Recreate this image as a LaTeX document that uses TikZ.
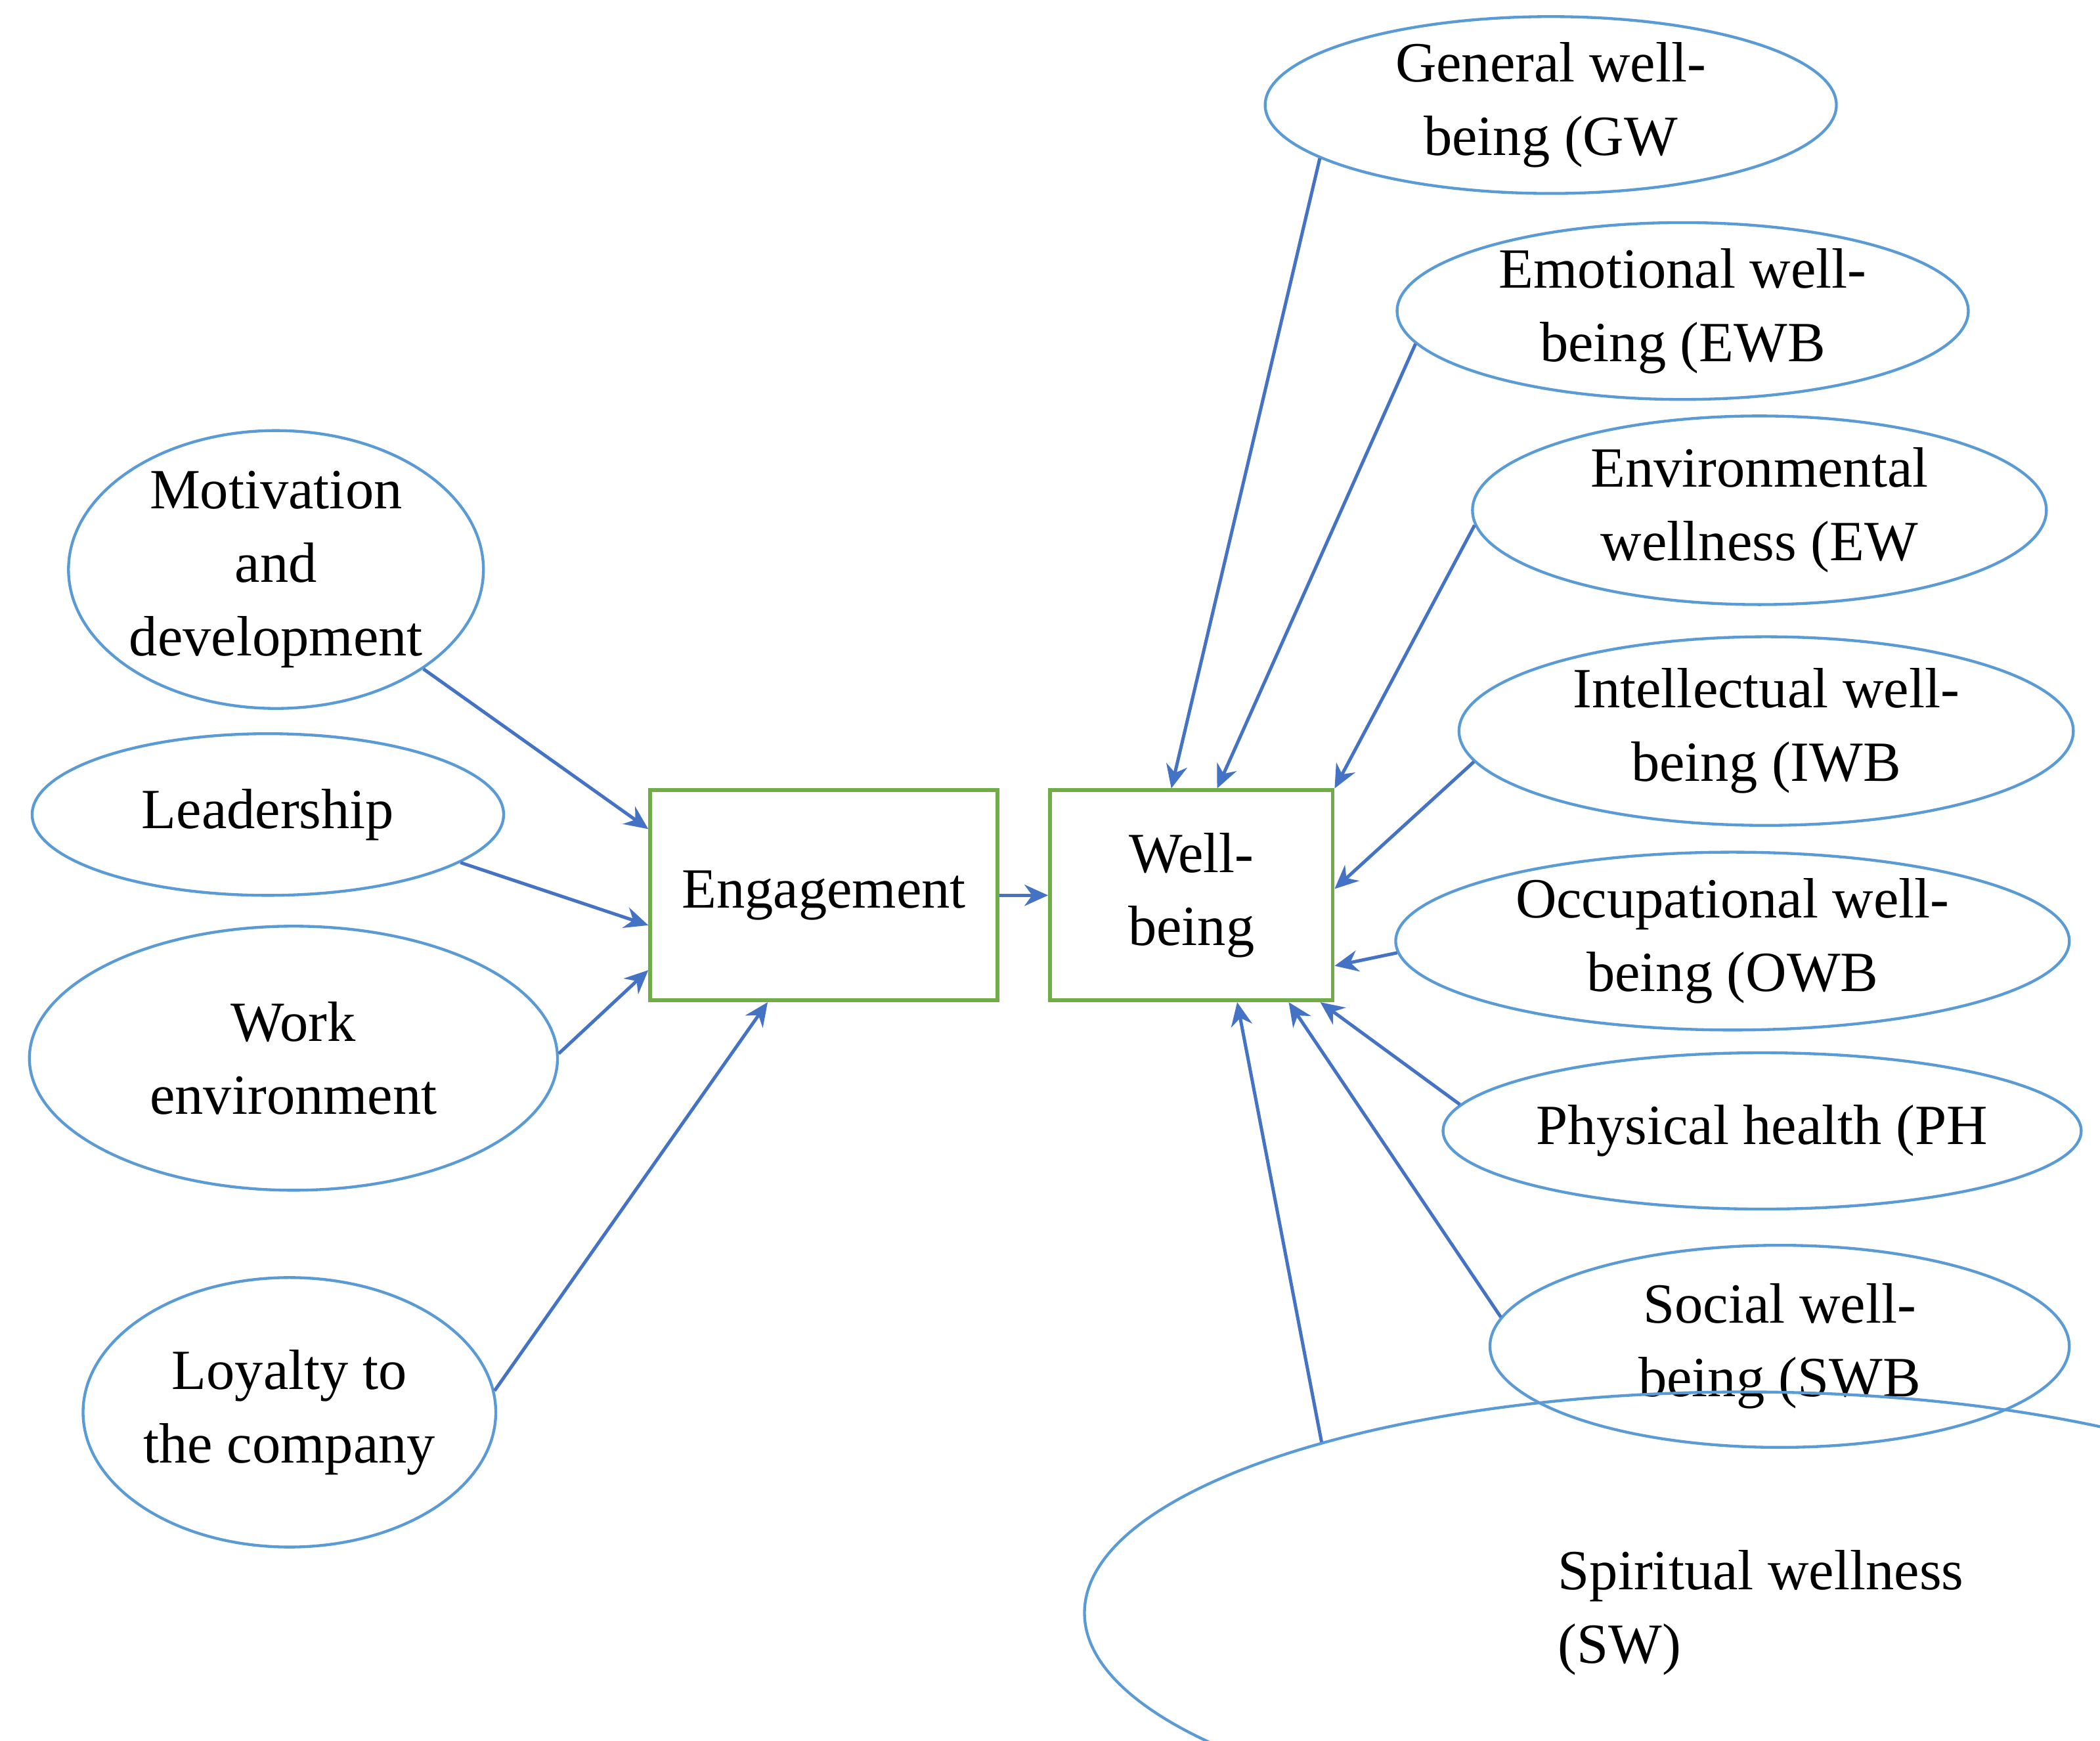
\documentclass[tikz,border=0pt]{standalone}
\usepackage{fontspec}
\setmainfont{Liberation Serif}
\usetikzlibrary{shapes.geometric,arrows.meta,calc}
\definecolor{ell}{RGB}{91,155,213}
\definecolor{arr}{RGB}{68,114,196}
\definecolor{grn}{RGB}{112,173,71}
\begin{document}
\begin{tikzpicture}[x=0.01cm,y=-0.01cm,
 el/.style={ellipse,draw=ell,line width=0.6pt,inner sep=0pt,align=center,font=\fontsize{12}{15.5}\selectfont},
 bx/.style={rectangle,draw=grn,line width=0.8pt,inner sep=0pt,align=center,font=\fontsize{12}{15.5}\selectfont},
 ar/.style={draw=arr,line width=0.7pt,-{Stealth[length=5pt,width=4.5pt]}}]
\useasboundingbox (0,0) rectangle (1560,1293);
\def\E(#1,#2,#3,#4,#5,#6){\node[el,minimum width=#4*0.02cm,minimum height=#5*0.02cm] (#1) at (#2,#3) {#6};}
\E(mot,205,423,152,101,Motivation\\and\\development)
\E(lead,199,605,175,60,Leadership)
\E(work,218,786,196,98,Work\\environment)
\E(loy,215,1049,142,100,Loyalty to\\the company)
\E(gw,1152,78,212,62,General well-\\being (GW))
\E(ewb,1250,231,212,63,Emotional well-\\being (EWB))
\E(ew,1307,379,213,70,Environmental\\wellness (EW))
\E(iwb,1312,543,228,70,Intellectual well-\\being (IWB))
\E(owb,1287,699,250,66,Occupational well-\\being (OWB))
\E(ph,1309,840,227,58,Physical health (PH))
\E(swb,1322,1000,215,75,Social well-\\being (SWB))
\node[el,minimum width=490*0.02cm,minimum height=164*0.02cm] (sw) at (1296,1198) {};
\node[font=\fontsize{12}{15.5}\selectfont,align=left,anchor=west] (swt) at (1145,1198) {Spiritual wellness\\(SW)};
\node[bx,minimum width=258*0.01cm,minimum height=156*0.01cm] (eng) at (612,665) {Engagement};
\node[bx,minimum width=210*0.01cm,minimum height=156*0.01cm] (wb) at (885,665) {Well-\\being};
\draw[ar] (mot.-34) -- ($(eng.north west)!0.19!(eng.south west)$);
\draw[ar] (lead.-14) -- ($(eng.north west)!0.64!(eng.south west)$);
\draw[ar] (work.1) -- ($(eng.north west)!0.85!(eng.south west)$);
\draw[ar] (loy.6) -- ($(eng.south west)!0.34!(eng.south east)$);
\draw[ar] (eng.east) -- (wb.west);
\draw[ar] (gw.193) -- ($(wb.north west)!0.43!(wb.north east)$);
\draw[ar] (ewb.187.5) -- ($(wb.north west)!0.59!(wb.north east)$);
\draw[ar] (ew.183) -- (wb.north east);
\draw[ar] (iwb.186) -- ($(wb.north east)!0.47!(wb.south east)$);
\draw[ar] (owb.182) -- ($(wb.north east)!0.83!(wb.south east)$);
\draw[ar] (ph.175) -- ($(wb.south west)!0.95!(wb.south east)$);
\draw[ar] (swb.174.5) -- ($(wb.south west)!0.84!(wb.south east)$);
\draw[ar] (sw.158.6) -- ($(wb.south west)!0.66!(wb.south east)$);
\end{tikzpicture}
\end{document}
